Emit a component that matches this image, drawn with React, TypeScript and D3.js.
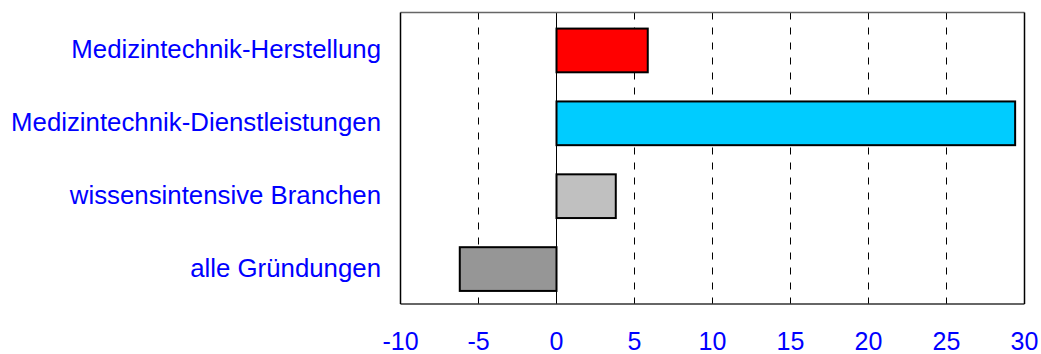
import React from "react";
import * as d3 from "d3";

const categories = [
  "Medizintechnik-Herstellung",
  "Medizintechnik-Dienstleistungen",
  "wissensintensive Branchen",
  "alle Gründungen",
];
const values = [5.85, 29.4, 3.8, -6.2];
const barColors = ["#ff0000", "#00ccff", "#c0c0c0", "#969696"];
const xTicks = [-10, -5, 0, 5, 10, 15, 20, 25, 30];

const W = 1041;
const H = 354;
const left = 400.5;
const right = 1024.5;
const top = 12.5;
const bottom = 304;

export default function App() {
  const x = d3.scaleLinear().domain([-10, 30]).range([left, right]);
  const y = d3
    .scaleBand<string>()
    .domain(categories)
    .range([top + 1.5, bottom + 1.5])
    .paddingInner(0.4)
    .paddingOuter(0.2);
  const font = "'Liberation Sans', Arial, sans-serif";
  return (
    <svg
      width={W}
      height={H}
      style={{ position: "absolute", left: 0, top: 0, background: "#fff" }}
    >
      {xTicks
        .filter((t) => t !== -10 && t !== 30 && t !== 0)
        .map((t) => (
          <line
            key={t}
            x1={x(t)}
            x2={x(t)}
            y1={top}
            y2={bottom}
            stroke="#000"
            strokeWidth={1}
            strokeDasharray="7,8"
          />
        ))}
      <line x1={x(0)} x2={x(0)} y1={top} y2={bottom} stroke="#000" strokeWidth={1} />
      {categories.map((c, i) => {
        const v = values[i];
        const x0 = x(Math.min(0, v));
        const x1 = x(Math.max(0, v));
        return (
          <rect
            key={c}
            x={x0}
            y={y(c)}
            width={x1 - x0}
            height={y.bandwidth()}
            fill={barColors[i]}
            stroke="#000"
            strokeWidth={2}
          />
        );
      })}
      <line x1={left} x2={right} y1={top} y2={top} stroke="#666" strokeWidth={1.5} />
      <line x1={left} x2={right} y1={bottom} y2={bottom} stroke="#333" strokeWidth={1.5} />
      <line x1={left} x2={left} y1={top} y2={bottom} stroke="#000" strokeWidth={1.5} />
      <line x1={right} x2={right} y1={top} y2={bottom} stroke="#000" strokeWidth={1.5} />
      {categories.map((c) => (
        <text
          key={c}
          x={381}
          y={(y(c) as number) + y.bandwidth() / 2 + 8}
          textAnchor="end"
          fill="#0000ff"
          fontFamily={font}
          fontSize={25.8}
        >
          {c}
        </text>
      ))}
      {xTicks.map((t) => (
        <text
          key={t}
          x={x(t)}
          y={350}
          textAnchor="middle"
          fill="#0000ff"
          fontFamily={font}
          fontSize={25}
        >
          {t}
        </text>
      ))}
    </svg>
  );
}
